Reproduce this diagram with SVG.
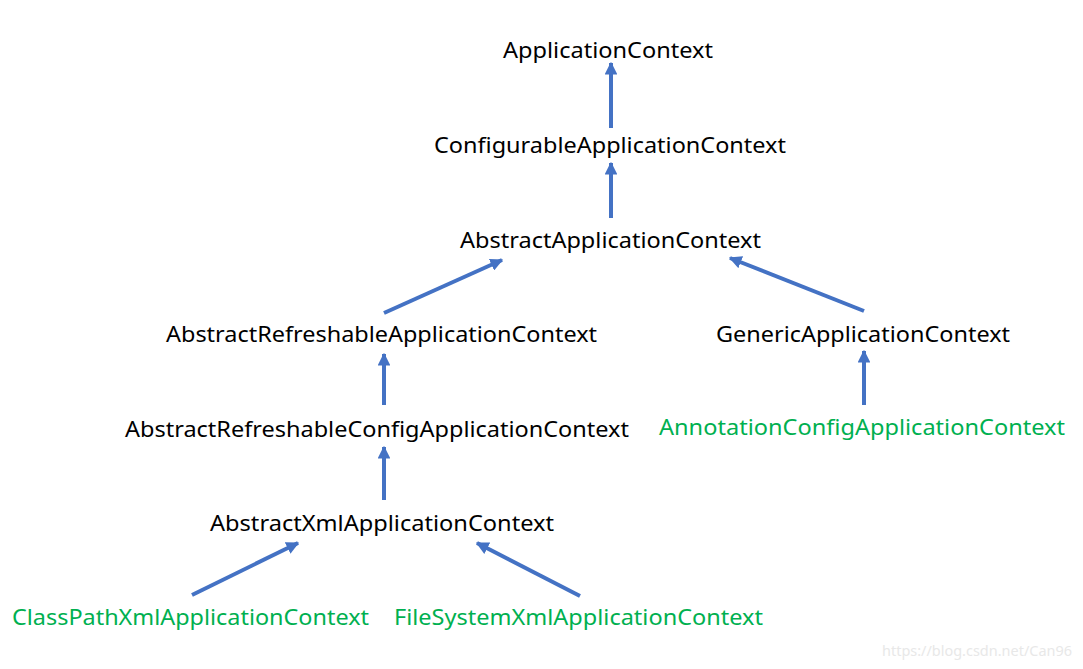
<svg xmlns="http://www.w3.org/2000/svg" width="1083" height="669" viewBox="0 0 1083 669">
<style>
text{font-family:"Noto Sans","Liberation Sans",sans-serif;font-size:22px;fill:#000}
.g{fill:#00B050}
.wm{font-size:15px;fill:#e8e8e8}
.c line{stroke:#4472C4;stroke-width:4}
</style>
<defs>
<marker id="ah" viewBox="0 0 10 10" refX="9" refY="5" markerWidth="3.2" markerHeight="3.2" orient="auto" markerUnits="strokeWidth">
<path d="M0,0 L10,5 L0,10 z" fill="#4472C4"/>
</marker>
</defs>
<rect width="1083" height="669" fill="#fff"/>
<g class="c" id="connectors">
<line x1="611" y1="128" x2="611" y2="63" marker-end="url(#ah)"/>
<line x1="611" y1="218" x2="611" y2="163" marker-end="url(#ah)"/>
<line x1="384" y1="313" x2="502" y2="260" marker-end="url(#ah)"/>
<line x1="864" y1="311" x2="730" y2="258" marker-end="url(#ah)"/>
<line x1="384" y1="405" x2="384" y2="354" marker-end="url(#ah)"/>
<line x1="864" y1="405" x2="864" y2="351" marker-end="url(#ah)"/>
<line x1="384" y1="500" x2="384" y2="447" marker-end="url(#ah)"/>
<line x1="192" y1="595" x2="298" y2="543" marker-end="url(#ah)"/>
<line x1="580" y1="596" x2="477" y2="543" marker-end="url(#ah)"/>
</g>
<g id="n1"><text x="503" y="58" textLength="210" lengthAdjust="spacingAndGlyphs">ApplicationContext</text></g>
<g id="n2"><text x="434" y="153" textLength="352" lengthAdjust="spacingAndGlyphs">ConfigurableApplicationContext</text></g>
<g id="n3"><text x="460" y="248" textLength="301" lengthAdjust="spacingAndGlyphs">AbstractApplicationContext</text></g>
<g id="n4"><text x="166" y="342" textLength="431" lengthAdjust="spacingAndGlyphs">AbstractRefreshableApplicationContext</text></g>
<g id="n5"><text x="716" y="342" textLength="294" lengthAdjust="spacingAndGlyphs">GenericApplicationContext</text></g>
<g id="n6"><text x="125" y="437" textLength="504" lengthAdjust="spacingAndGlyphs">AbstractRefreshableConfigApplicationContext</text></g>
<g id="n7"><text class="g" x="659" y="435" textLength="406" lengthAdjust="spacingAndGlyphs">AnnotationConfigApplicationContext</text></g>
<g id="n8"><text x="210" y="531" textLength="344" lengthAdjust="spacingAndGlyphs">AbstractXmlApplicationContext</text></g>
<g id="n9"><text class="g" x="12" y="625" textLength="357" lengthAdjust="spacingAndGlyphs">ClassPathXmlApplicationContext</text></g>
<g id="n10"><text class="g" x="394" y="625" textLength="369" lengthAdjust="spacingAndGlyphs">FileSystemXmlApplicationContext</text></g>
<text class="wm" x="882" y="656" textLength="190" lengthAdjust="spacingAndGlyphs">https://blog.csdn.net/Can96</text>
</svg>
